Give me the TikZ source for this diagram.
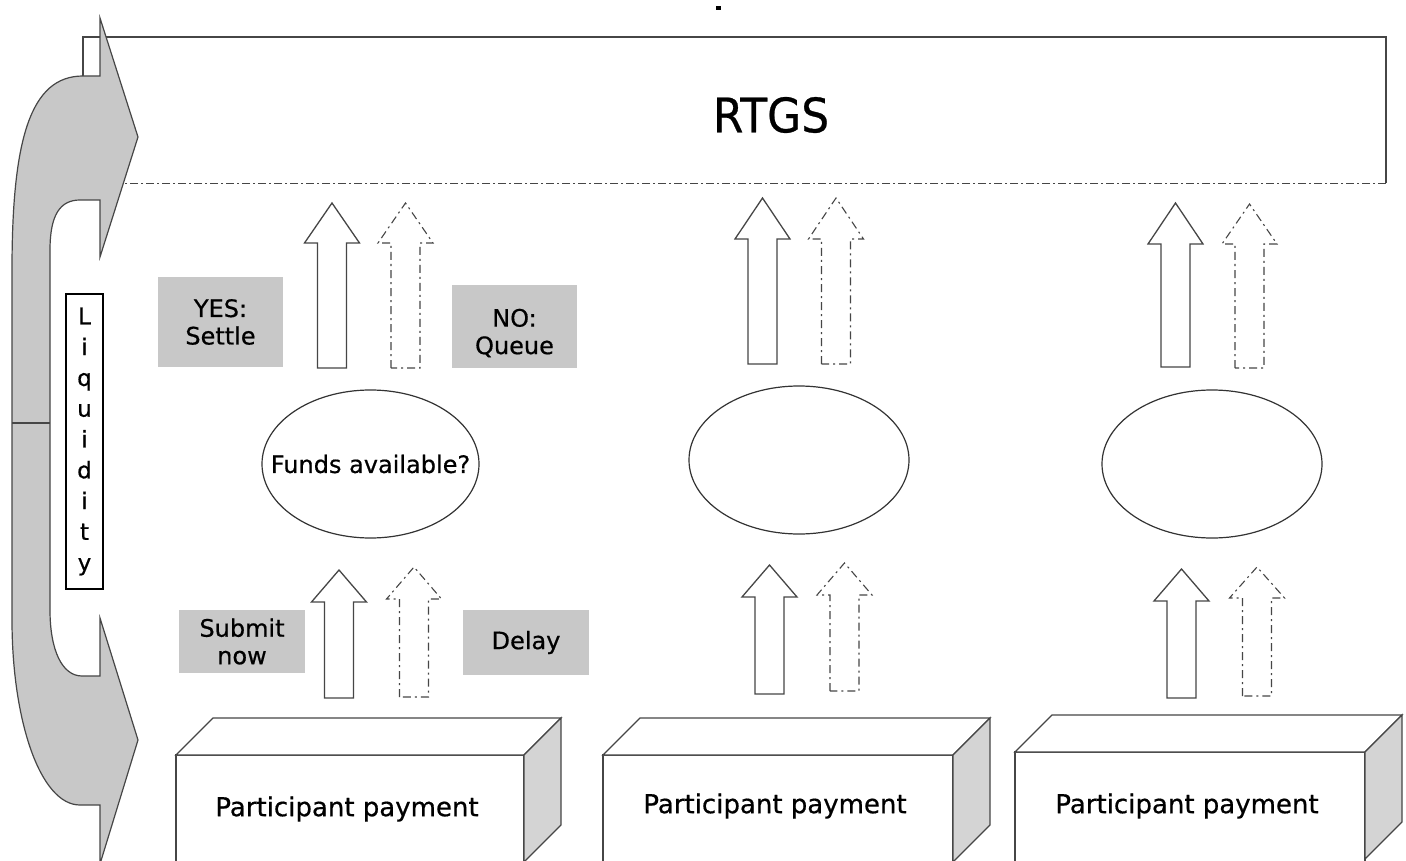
\documentclass[tikz,border=0pt]{standalone}
\usepackage{fontspec}
\setmainfont{DejaVu Sans}[FakeBold=0.6]
\usepackage{graphicx}
\usetikzlibrary{shapes.geometric}
\definecolor{liqgray}{RGB}{200,200,200}
\definecolor{labgray}{RGB}{200,200,200}
\definecolor{sidegray}{RGB}{212,212,212}
\definecolor{edgec}{RGB}{70,70,70}
\newcommand\BArr[5]{\draw[#5] ({#1-14.5},#4) -- ({#1-14.5},#3) -- ({#1-27.5},#3) -- (#1,#2) -- ({#1+27.5},#3) -- ({#1+14.5},#3) -- ({#1+14.5},#4) -- cycle;}
\newcommand\PBox[6]{%
  \draw[boxline,fill=white] (#1,#2) rectangle ({#1+#3},880);
  \draw[boxline,fill=white] (#1,#2) -- ({#1+37},{#2-37}) -- ({#1+#3+37},{#2-37}) -- ({#1+#3},#2) -- cycle;
  \draw[boxline,fill=sidegray] ({#1+#3},#2) -- ({#1+#3+37},{#2-37}) -- ({#1+#3+37},{#2+70}) -- ({#1+#3},{#2+107}) -- cycle;
  \node[ptext] (#4) at ({#1+#3/2-3},#6) {#5};}
\tikzset{
  boxline/.style={draw=edgec,line width=1.3pt,line join=miter},
  solidarr/.style={draw=edgec,line width=1.3pt,fill=white},
  dasharr/.style={draw=edgec,line width=1.1pt,fill=white,dash pattern=on 8pt off 4pt on 2pt off 4pt},
  dashdotline/.style={draw=edgec,line width=1.1pt,dash pattern=on 8pt off 3pt on 2pt off 3pt},
  lab/.style={fill=labgray,inner sep=0pt,align=center,font=\fontsize{24}{27.5}\selectfont},
  labtext/.style={inner sep=0pt,align=center,font=\fontsize{24}{27.5}\selectfont},
  ptext/.style={inner sep=0pt,font=\fontsize{26}{30}\selectfont},
  qell/.style={ellipse,draw=black!80,line width=1.2pt,inner sep=0pt},
}
\begin{document}
\begin{tikzpicture}[x=1pt,y=-1pt]
\useasboundingbox (0,0) rectangle (1406,861);
\clip (0,0) rectangle (1406,861);
\fill[white] (0,0) rectangle (1406,861);
% stray mark
\fill (716,6) rectangle (721,10);
% RTGS box
\node[minimum width=1303pt,minimum height=146pt,inner sep=0pt] (rtgsbox) at (734.5,110) {};
\draw[boxline,line width=1.5pt] (rtgsbox.west |- 0,76) -- (rtgsbox.north west) -- (rtgsbox.north east) -- (rtgsbox.south east);
\draw[dashdotline] (rtgsbox.south east) -- (rtgsbox.south west);
\node[inner sep=0pt,font=\fontsize{44}{50}\selectfont] (rtgs) at (771,115) {\scalebox{1}[1.08]{RTGS}};
% liquidity arrow
\draw[draw=edgec,line width=1.2pt,fill=liqgray,line join=miter]
  (138,137) -- (100,18) -- (100,76) -- (83,76)
  .. controls (30,76) and (12,140) .. (12,270)
  -- (12,620)
  .. controls (12,720) and (40,805) .. (80,805)
  -- (100,805) -- (100,864) -- (138,740) -- (100,618) -- (100,676) -- (82,676)
  .. controls (62,676) and (50,650) .. (50,610)
  -- (50,250)
  .. controls (50,215) and (60,200) .. (80,200)
  -- (100,200) -- (100,257) -- cycle;
\draw[draw=edgec,line width=1.2pt] (12,423) -- (50,423);
% liquidity label
\node[draw=black,line width=1.2pt,fill=white,minimum width=37pt,minimum height=295pt,inner sep=0pt,align=center,font=\fontsize{23}{30.8}\selectfont] (liq) at (84.5,441.5) {L\\i\\q\\u\\i\\d\\i\\t\\y};
% labels
\node[lab,minimum width=125pt,minimum height=90pt] (yes) at (220.5,322) {YES:\\Settle};
\node[lab,minimum width=125pt,minimum height=83pt] (no) at (514.5,326.5) {};
\node[labtext] (notext) at (514.5,333) {NO:\\Queue};
\node[lab,minimum width=126pt,minimum height=63pt] (submit) at (242,641.5) {Submit\\now};
\node[lab,minimum width=126pt,minimum height=65pt] (delay) at (526,642.5) {Delay};
% ellipses
\node[qell,minimum width=217pt,minimum height=148pt] (e1) at (370.5,464) {};
\node[inner sep=0pt,font=\fontsize{24}{28}\selectfont] (funds) at (e1.center) {Funds available?};
\node[qell,minimum width=220pt,minimum height=148pt] (e2) at (799,460) {};
\node[qell,minimum width=220pt,minimum height=148pt] (e3) at (1212,464) {};
% column 1 arrows
\BArr{332}{203}{243}{368}{solidarr}
\BArr{405.5}{203}{243}{368}{dasharr}
\BArr{339}{570}{602}{698}{solidarr}
\BArr{414}{567}{599}{697}{dasharr}
% column 2 arrows
\BArr{762.5}{198}{239}{364}{solidarr}
\BArr{836}{198}{239}{364}{dasharr}
\BArr{769.5}{565}{597}{694}{solidarr}
\BArr{844.5}{563}{595}{691}{dasharr}
% column 3 arrows
\BArr{1175.5}{203}{244}{367}{solidarr}
\BArr{1249.5}{204}{244}{368}{dasharr}
\BArr{1181.5}{569}{601}{698}{solidarr}
\BArr{1257}{567}{598}{696}{dasharr}
% participant boxes
\PBox{176}{755}{348}{p1}{Participant payment}{809}
\PBox{603}{755}{350}{p2}{Participant payment}{806}
\PBox{1015}{752}{350}{p3}{Participant payment}{806}
\end{tikzpicture}
\end{document}
